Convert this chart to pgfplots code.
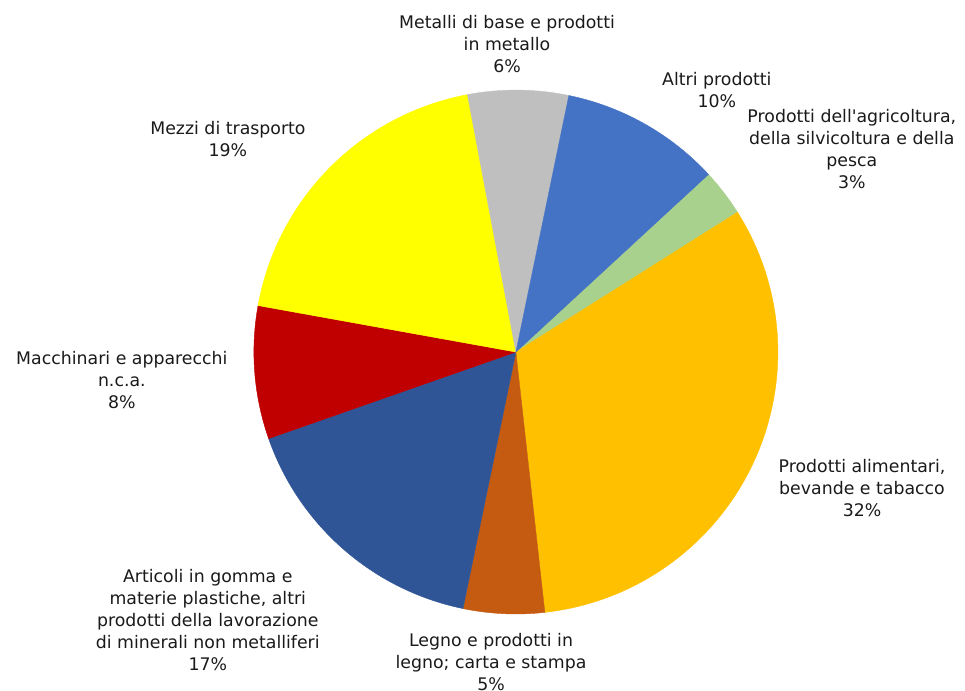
\documentclass[border=0pt]{standalone}
\usepackage{pgfplots}
\pgfplotsset{compat=1.18}
\usepackage{fontspec}
\setmainfont{DejaVu Sans}

\definecolor{cagr}{HTML}{A9D18E}
\definecolor{calim}{HTML}{FFC000}
\definecolor{cleg}{HTML}{C55A11}
\definecolor{cgom}{HTML}{2F5597}
\definecolor{cmac}{HTML}{C00000}
\definecolor{cmez}{HTML}{FFFF00}
\definecolor{cmet}{HTML}{BFBFBF}
\definecolor{calt}{HTML}{4472C4}
\definecolor{ctxt}{HTML}{1A1A1A}

% share in %, clockwise, first slice starts at 42.7 deg
\def\pieangle{42.7}
\newcommand\slice[2]{%
  \pgfmathsetmacro\sa{\pieangle}%
  \pgfmathsetmacro\sb{\pieangle-3.6*#1}%
  \edef\doslice{\noexpand\addplot[fill=#2, draw=#2, line width=0.3pt,
    domain=\sb:\sa, samples=80] ({cos(x)},{sin(x)}) -- (axis cs:0,0) -- cycle;}%
  \doslice
  \global\let\pieangle\sb}

\tikzset{lbl/.style={font=\fontsize{13}{16.5}\selectfont, text=ctxt, align=center, inner sep=0pt}}

\begin{document}
\begin{tikzpicture}
\begin{axis}[
  scale only axis, width=723.75pt, height=518.25pt,
  xmin=-1.969, xmax=1.714, ymin=-1.294, ymax=1.344,
  hide axis, clip=false,
]
\slice{2.9}{cagr}
\slice{32.2}{calim}
\slice{5.0}{cleg}
\slice{16.4}{cgom}
\slice{8.2}{cmac}
\slice{19.2}{cmez}
\slice{6.2}{cmet}
\slice{9.9}{calt}

\node[lbl] at (axis cs:-0.034,1.176) {Metalli di base e prodotti\\in metallo\\6\%};
\node[lbl] at (axis cs:0.767,1.0) {Altri prodotti\\10\%};
\node[lbl] at (axis cs:1.282,0.775) {Prodotti dell\textquotesingle agricoltura,\\della silvicoltura e della\\pesca\\3\%};
\node[lbl] at (axis cs:1.321,-0.519) {Prodotti alimentari,\\bevande e tabacco\\32\%};
\node[lbl] at (axis cs:-0.095,-1.183) {Legno e prodotti in\\legno; carta e stampa\\5\%};
\node[lbl] at (axis cs:-1.176,-1.023) {Articoli in gomma e\\materie plastiche, altri\\prodotti della lavorazione\\di minerali non metalliferi\\17\%};
\node[lbl] at (axis cs:-1.504,-0.107) {Macchinari e apparecchi\\n.c.a.\\8\%};
\node[lbl] at (axis cs:-1.099,0.813) {Mezzi di trasporto\\19\%};
\end{axis}
\pgfresetboundingbox
\path[use as bounding box] (current axis.south west) rectangle (current axis.north east);
\end{tikzpicture}
\end{document}
